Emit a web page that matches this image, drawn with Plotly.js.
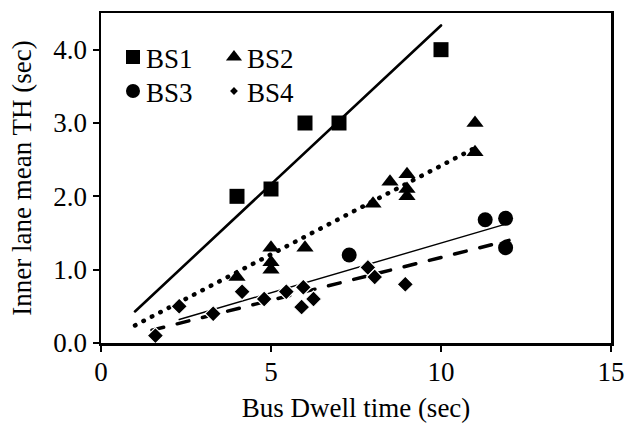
<!DOCTYPE html>
<html>
<head>
<meta charset="utf-8">
<script src="https://cdn.plot.ly/plotly-3.0.1.min.js"></script>
<style>
html,body{margin:0;padding:0;background:#fff;}
path.js-line{stroke-linecap:round;}
#chart text.legendtext, #chart text.legend2text{transform:translateX(-7px);}
</style>
</head>
<body>
<div id="chart" style="width:625px;height:423px;"></div>
<script>
// Data
const seriesNames = ["BS1", "BS2", "BS3", "BS4"];
const bs1X = [4, 5, 6, 7, 10];
const bs1Y = [2.0, 2.1, 3.0, 3.0, 4.0];
const bs2X = [4, 5, 5, 5, 6, 8, 8.5, 9, 9, 9, 11, 11];
const bs2Y = [0.9, 1.3, 1.1, 1.0, 1.3, 1.9, 2.2, 2.3, 2.1, 2.0, 3.0, 2.6];
const bs3X = [7.3, 11.3, 11.9, 11.9];
const bs3Y = [1.2, 1.68, 1.7, 1.3];
const bs4X = [1.6, 2.3, 3.3, 4.15, 4.8, 5.45, 5.95, 5.9, 6.25, 7.85, 8.05, 8.95];
const bs4Y = [0.1, 0.5, 0.4, 0.7, 0.6, 0.7, 0.76, 0.49, 0.6, 1.03, 0.9, 0.8];
// Trend lines (endpoints)
const trend1X = [1, 10],   trend1Y = [0.43, 4.33];
const trend2X = [1, 11],   trend2Y = [0.24, 2.66];
const trend3X = [2.3, 11.9], trend3Y = [0.32, 1.62];
const trend4X = [1.5, 12], trend4Y = [0.175, 1.4];
const xTickVals = [0, 5, 10, 15];
const yTickVals = [0, 1, 2, 3, 4];
const xTitle = "Bus Dwell time (sec)";
const yTitle = "Inner lane mean TH (sec)";

const FONT = "Liberation Serif, Times New Roman, serif";
const noLine = {width: 0};

const traces = [
  {x: trend1X, y: trend1Y, mode: "lines", line: {color: "#000", width: 2.6}, showlegend: false, hoverinfo: "skip"},
  {x: trend2X, y: trend2Y, mode: "lines", line: {color: "#000", width: 4.5, dash: "0.5px,9px"}, showlegend: false, hoverinfo: "skip"},
  {x: trend3X, y: trend3Y, mode: "lines", line: {color: "#000", width: 1.4}, showlegend: false, hoverinfo: "skip"},
  {x: trend4X, y: trend4Y, mode: "lines", line: {color: "#000", width: 3.5, dash: "12px,14px"}, showlegend: false, hoverinfo: "skip"},
  {x: bs1X, y: bs1Y, mode: "markers", marker: {symbol: "square", size: 15, color: "#000", line: noLine}, showlegend: false},
  {x: bs2X, y: bs2Y, mode: "markers", marker: {symbol: "triangle-up", size: 15, color: "#000", line: noLine}, showlegend: false},
  {x: bs3X, y: bs3Y, mode: "markers", marker: {symbol: "circle", size: 15, color: "#000", line: noLine}, showlegend: false},
  {x: bs4X, y: bs4Y, mode: "markers", marker: {symbol: "diamond", size: 12.5, color: "#000", line: {color: "#fff", width: 1.2}}, showlegend: false},
  // legend entries
  {x: [null], y: [null], name: seriesNames[0], mode: "markers", marker: {symbol: "square", size: 14, color: "#000", line: noLine}, legend: "legend"},
  {x: [null], y: [null], name: seriesNames[1], mode: "markers", marker: {symbol: "triangle-up", size: 14, color: "#000", line: noLine}, legend: "legend"},
  {x: [null], y: [null], name: seriesNames[2], mode: "markers", marker: {symbol: "circle", size: 14, color: "#000", line: noLine}, legend: "legend2"},
  {x: [null], y: [null], name: seriesNames[3], mode: "markers", marker: {symbol: "diamond", size: 6, color: "#000", line: noLine}, legend: "legend2"}
];

const axisCommon = {
  showgrid: false, zeroline: false, showline: true, linecolor: "#000", linewidth: 2.5,
  mirror: true, ticks: "outside", ticklen: 6, tickwidth: 2, tickcolor: "#000",
  tickfont: {family: FONT, size: 27, color: "#000"}, fixedrange: true
};

const legendCommon = {
  orientation: "h", xref: "paper", yref: "paper", xanchor: "left", yanchor: "top",
  font: {family: FONT, size: 27, color: "#000"}, bgcolor: "rgba(0,0,0,0)", borderwidth: 0,
  entrywidth: 56, itemclick: false, itemdoubleclick: false
};

const layout = {
  width: 625, height: 423,
  margin: {l: 101, r: 14, t: 13, b: 80, pad: 0},
  paper_bgcolor: "#fff", plot_bgcolor: "#fff",
  font: {family: FONT, color: "#000"},
  showlegend: true,
  xaxis: Object.assign({}, axisCommon, {
    range: [0, 15], tickvals: xTickVals, ticklabelstandoff: -3,
    title: {text: xTitle, font: {family: FONT, size: 27, color: "#000"}, standoff: 14}
  }),
  yaxis: Object.assign({}, axisCommon, {
    range: [0, 4.5], tickvals: yTickVals, tickformat: ".1f", ticklabelstandoff: 0,
    title: {text: yTitle, font: {family: FONT, size: 27, color: "#000"}, standoff: 14}
  }),
  legend: Object.assign({}, legendCommon, {x: 0.0235, y: 0.9396}),
  legend2: Object.assign({}, legendCommon, {x: 0.0235, y: 0.8365})
};

Plotly.newPlot("chart", traces, layout, {displayModeBar: false, staticPlot: true});
</script>
</body>
</html>
